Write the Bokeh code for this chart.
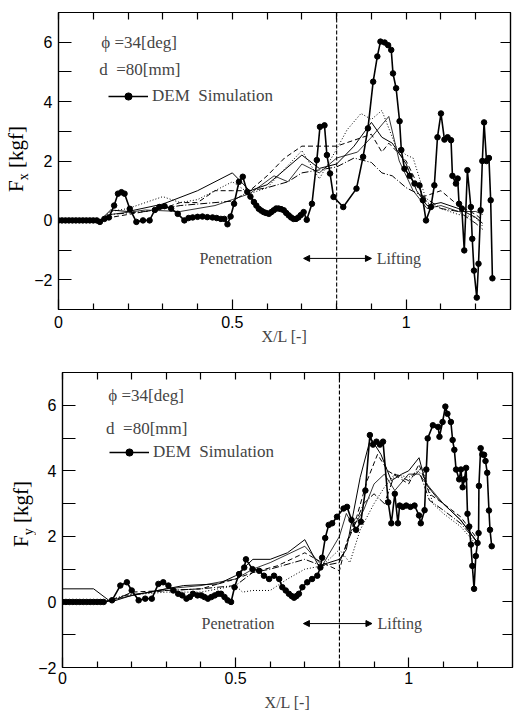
from bokeh.plotting import figure
from bokeh.models import (Range1d, FixedTicker, LinearAxis, Span, Arrow, NormalHead,
                          Label, Legend, LegendItem, Div)
from bokeh.layouts import column, row
from bokeh.embed import file_html
from bokeh.resources import INLINE

# ---------------- data ----------------
x_major = [0, 0.5, 1.0]
x_minor = [0.1, 0.2, 0.3, 0.4, 0.6, 0.7, 0.8, 0.9, 1.1, 1.2]
x_labels = {0: "0", 0.5: "0.5", 1: "1"}
y_major = [-2, 0, 2, 4, 6]
y_minor = [-3, -1, 1, 3, 5, 7]
x_lift = 0.8

# Top panel: Fx, DEM simulation
dem_fx_x = [0.00, 0.01, 0.02, 0.03, 0.04, 0.05, 0.06, 0.07, 0.08, 0.09, 0.10, 0.11,
            0.119, 0.132, 0.145, 0.160, 0.171, 0.181, 0.190, 0.205, 0.224, 0.243, 0.262,
            0.277, 0.290, 0.305, 0.324, 0.343, 0.362, 0.374, 0.386, 0.400, 0.414, 0.428,
            0.443, 0.455, 0.467, 0.477, 0.486, 0.495, 0.505, 0.519, 0.530, 0.543, 0.552,
            0.562, 0.569, 0.576, 0.583, 0.590, 0.597, 0.605, 0.612, 0.619, 0.626, 0.633,
            0.640, 0.648, 0.655, 0.662, 0.669, 0.676, 0.683, 0.690, 0.697, 0.705, 0.714,
            0.729, 0.743, 0.752, 0.765, 0.772, 0.781, 0.791, 0.819, 0.857, 0.876, 0.890,
            0.905, 0.917, 0.926, 0.938, 0.948, 0.957, 0.962, 0.971, 0.981, 0.986, 0.995,
            1.010, 1.024, 1.038, 1.048, 1.057, 1.071, 1.081, 1.090, 1.100, 1.110, 1.119,
            1.129, 1.133, 1.143, 1.148, 1.152, 1.160, 1.167, 1.176, 1.186, 1.190, 1.195,
            1.203, 1.208, 1.214, 1.219, 1.224, 1.231, 1.238, 1.243, 1.248]
dem_fx_y = [0.0, 0.0, 0.0, 0.0, 0.0, 0.0, 0.0, 0.0, 0.0, 0.0, 0.0, 0.0,
            -0.05, 0.05, 0.10, 0.50, 0.90, 0.95, 0.90, 0.39, -0.05, 0.00, 0.00,
            0.35, 0.45, 0.48, 0.40, 0.22, 0.00, 0.08, 0.10, 0.12, 0.13, 0.11,
            0.10, 0.08, 0.05, 0.05, -0.13, 0.13, 0.56, 1.30, 1.47, 0.96, 0.80,
            0.62, 0.50, 0.39, 0.33, 0.28, 0.25, 0.22, 0.28, 0.34, 0.40, 0.40,
            0.38, 0.34, 0.25, 0.17, 0.10, 0.05, 0.05, 0.10, 0.18, 0.28, 0.02,
            0.56, 2.03, 3.15, 3.20, 2.20, 1.58, 0.79, 0.45, 1.07, 2.14, 3.10,
            4.67, 5.52, 6.02, 5.99, 5.90, 5.74, 4.95, 4.45, 3.34, 2.37, 1.74,
            1.50, 1.24, 1.18, 0.68, 0.00, 0.45, 1.18, 2.80, 3.60, 2.72, 2.80,
            2.70, 1.50, 1.24, 1.41, 0.56, 0.40, -1.01, 1.69, 0.45, -0.62, -1.69,
            -2.60, -1.46, 0.34, 2.00, 3.30, 2.00, 2.10, 0.68, -1.95]

# Top panel: experiments
exp1_fx_x = [0, 0.12, 0.15, 0.20, 0.30, 0.40, 0.50, 0.55, 0.60, 0.70, 0.75, 0.80, 0.85,
             0.90, 0.93, 0.96, 1.00, 1.03, 1.06, 1.10, 1.15, 1.20, 1.22]
exp1_fx_y = [0, 0, 0.35, 0.30, 0.55, 1.00, 1.60, 1.00, 1.20, 2.20, 1.75, 1.90, 2.50,
             3.30, 2.80, 2.60, 1.90, 1.00, 0.50, 0.60, 0.40, 0.10, -0.10]
exp2_fx_x = [0, 0.12, 0.15, 0.20, 0.30, 0.35, 0.40, 0.45, 0.50, 0.55, 0.60, 0.65, 0.70,
             0.80, 0.85, 0.90, 0.93, 0.95, 1.00, 1.05, 1.10, 1.15, 1.20, 1.22]
exp2_fx_y = [0, 0, 0.10, 0.20, 0.40, 0.60, 0.60, 1.00, 1.00, 1.00, 1.50, 2.10, 2.50,
             2.50, 2.70, 2.90, 2.30, 2.60, 2.00, 0.80, 1.00, 0.50, 0.20, 0.00]
exp3_fx_x = [0, 0.12, 0.15, 0.20, 0.30, 0.35, 0.40, 0.50, 0.55, 0.60, 0.70, 0.75, 0.80,
             0.83, 0.87, 0.90, 0.93, 0.97, 1.00, 1.02, 1.06, 1.10, 1.15, 1.20, 1.22]
exp3_fx_y = [0, 0, 0.30, 0.40, 0.80, 0.60, 0.70, 1.30, 0.90, 1.10, 2.35, 1.40, 2.40,
             3.05, 3.60, 3.40, 3.70, 2.50, 2.20, 2.10, 0.60, 0.40, 0.20, 0.10, -0.20]
exp4_fx_x = [0, 0.12, 0.15, 0.25, 0.35, 0.45, 0.50, 0.55, 0.62, 0.66, 0.70, 0.75, 0.80,
             0.86, 0.90, 0.95, 0.98, 1.02, 1.06, 1.10, 1.15, 1.20, 1.22]
exp4_fx_y = [0, 0, 0.20, 0.35, 0.30, 0.50, 0.70, 0.90, 1.50, 1.30, 1.90, 1.60, 2.10,
             2.30, 2.80, 3.50, 2.00, 1.00, 0.40, 0.50, 0.30, 0.30, 0.20]
exp5_fx_x = [0, 0.12, 0.15, 0.25, 0.35, 0.45, 0.50, 0.55, 0.60, 0.66, 0.70, 0.75, 0.80,
             0.85, 0.90, 0.93, 0.96, 1.00, 1.05, 1.10, 1.15, 1.20, 1.22]
exp5_fx_y = [0, 0, 0.20, 0.30, 0.50, 0.60, 0.65, 1.00, 1.10, 1.30, 1.60, 1.70, 1.80,
             2.10, 1.95, 1.60, 1.50, 1.10, 0.80, 0.40, 0.30, -0.10, -0.30]

# Bottom panel: Fy, DEM simulation
dem_fy_x = [0.00, 0.01, 0.02, 0.03, 0.04, 0.05, 0.06, 0.07, 0.08, 0.09, 0.10, 0.11,
            0.119, 0.143, 0.167, 0.186, 0.200, 0.220, 0.239, 0.258, 0.277, 0.291, 0.306,
            0.320, 0.334, 0.346, 0.358, 0.368, 0.377, 0.390, 0.401, 0.410, 0.420, 0.430,
            0.440, 0.450, 0.458, 0.468, 0.477, 0.487, 0.497, 0.510, 0.525, 0.530, 0.549,
            0.568, 0.582, 0.597, 0.611, 0.626, 0.635, 0.645, 0.654, 0.662, 0.669, 0.676,
            0.683, 0.693, 0.707, 0.721, 0.736, 0.745, 0.750, 0.759, 0.769, 0.779, 0.793,
            0.812, 0.822, 0.835, 0.848, 0.862, 0.875, 0.888, 0.897, 0.907, 0.917, 0.926,
            0.941, 0.950, 0.960, 0.969, 0.974, 0.983, 0.993, 1.005, 1.017, 1.030, 1.035,
            1.046, 1.051, 1.055, 1.070, 1.085, 1.089, 1.098, 1.106, 1.112, 1.122, 1.127,
            1.132, 1.137, 1.146, 1.151, 1.156, 1.161, 1.166, 1.170, 1.175, 1.180, 1.184,
            1.189, 1.194, 1.199, 1.202, 1.203, 1.208, 1.213, 1.218, 1.222, 1.227, 1.232,
            1.235, 1.240]
dem_fy_y = [0.0, 0.0, 0.0, 0.0, 0.0, 0.0, 0.0, 0.0, 0.0, 0.0, 0.0, 0.0,
            0.00, 0.05, 0.50, 0.60, 0.35, 0.05, 0.10, 0.10, 0.55, 0.60, 0.50,
            0.35, 0.25, 0.20, 0.10, 0.15, 0.25, 0.20, 0.20, 0.15, 0.10, 0.15,
            0.20, 0.25, 0.25, 0.15, 0.05, 0.00, 0.45, 0.85, 1.05, 1.30, 1.00,
            0.95, 0.80, 0.70, 0.80, 0.70, 0.45, 0.35, 0.25, 0.18, 0.13, 0.18,
            0.25, 0.45, 0.60, 0.70, 0.80, 1.05, 1.35, 1.95, 2.35, 2.40, 2.60,
            2.85, 2.90, 2.50, 2.20, 2.45, 3.40, 5.09, 4.80, 4.89, 4.80, 4.89,
            3.04, 2.40, 3.30, 2.40, 2.94, 2.90, 2.94, 2.90, 2.94, 2.64, 2.40,
            2.80, 4.04, 4.99, 5.39, 5.34, 5.04, 5.49, 5.96, 5.74, 5.49, 4.94,
            4.64, 4.04, 3.74, 4.04, 3.50, 3.74, 4.09, 2.69, 2.30, 1.75, 1.10,
            0.40, 1.40, 1.80, 2.10, 3.54, 4.69, 4.50, 4.49, 4.30, 3.94, 2.79,
            2.20, 1.70]

# Bottom panel: experiments
exp1_fy_x = [0, 0.09, 0.14, 0.20, 0.30, 0.35, 0.45, 0.50, 0.55, 0.60, 0.65, 0.70, 0.74,
             0.80, 0.82, 0.86, 0.89, 0.92, 0.95, 0.98, 1.00, 1.03, 1.05, 1.08, 1.12,
             1.15, 1.20]
exp1_fy_y = [0.40, 0.40, 0.00, 0.20, 0.40, 0.50, 0.55, 0.80, 1.30, 1.30, 1.50, 1.90,
             1.10, 1.30, 1.60, 3.80, 5.00, 4.50, 3.70, 3.90, 4.00, 4.40, 3.60, 3.20,
             2.80, 2.50, 1.80]
exp2_fy_x = [0, 0.12, 0.15, 0.20, 0.30, 0.40, 0.50, 0.55, 0.62, 0.70, 0.75, 0.80, 0.82,
             0.85, 0.88, 0.91, 0.94, 0.97, 1.00, 1.03, 1.06, 1.10, 1.15, 1.20]
exp2_fy_y = [0, 0, 0.05, 0.30, 0.35, 0.40, 0.70, 0.90, 1.10, 1.50, 1.20, 0.95, 1.80,
             2.60, 3.70, 4.50, 4.00, 3.80, 3.60, 4.20, 3.30, 3.00, 2.60, 1.90]
exp3_fy_x = [0, 0.12, 0.18, 0.30, 0.40, 0.45, 0.50, 0.52, 0.55, 0.60, 0.65, 0.70, 0.75,
             0.80, 0.83, 0.86, 0.90, 0.93, 0.96, 1.00, 1.04, 1.07, 1.10, 1.15, 1.20]
exp3_fy_y = [0, 0, 0.20, 0.30, 0.30, 0.40, 0.50, 0.30, 0.35, 0.35, 0.70, 1.00, 1.10,
             1.60, 1.20, 2.20, 3.00, 3.50, 3.90, 3.80, 4.10, 3.00, 2.70, 2.30, 1.70]
exp4_fy_x = [0, 0.12, 0.18, 0.30, 0.40, 0.50, 0.55, 0.60, 0.70, 0.75, 0.80, 0.82, 0.84,
             0.87, 0.90, 0.93, 0.96, 1.00, 1.03, 1.06, 1.10, 1.15, 1.20]
exp4_fy_y = [0, 0, 0.15, 0.40, 0.50, 0.70, 1.00, 1.20, 1.70, 1.10, 2.00, 2.70, 2.30,
             2.80, 3.60, 3.90, 3.40, 3.90, 3.90, 3.50, 3.00, 2.50, 1.80]
exp5_fy_x = [0, 0.12, 0.18, 0.30, 0.40, 0.50, 0.55, 0.60, 0.70, 0.75, 0.80, 0.83, 0.87,
             0.90, 0.93, 0.96, 1.00, 1.03, 1.06, 1.10, 1.15, 1.20]
exp5_fy_y = [0, 0, 0.20, 0.35, 0.40, 0.50, 0.90, 1.00, 1.30, 1.10, 1.20, 2.00, 3.00,
             3.30, 3.00, 3.90, 3.70, 4.00, 3.10, 2.80, 2.40, 1.80]

SERIF = "Liberation Serif"
SANS = "Liberation Sans"
exp_dashes = ["solid", "5 3", "1 2", "solid", "7 2 1 2"]
exp_widths = [1.0, 1.0, 1.0, 0.8, 1.0]
NB = "\u00a0"


def make_panel(width, height, borders, y_rng, exps, dem_x, dem_y,
               txt_pos, legend_loc, pen_pos, arrow_pos, lift_pos,
               tick_standoff, xlab_standoff):
    p = figure(width=width, height=height, x_range=Range1d(0, 1.3), y_range=Range1d(*y_rng),
               output_backend="svg", toolbar_location=None,
               min_border_left=borders[0], min_border_right=borders[1],
               min_border_top=borders[2], min_border_bottom=borders[3])
    bottom_ax = p.below[0]
    left_ax = p.left[0]
    p.xgrid.visible = False
    p.ygrid.visible = False
    p.outline_line_color = "black"
    p.outline_line_width = 1.2
    p.background_fill_color = "white"
    p.border_fill_color = "white"

    bottom_ax.ticker = FixedTicker(ticks=x_major, minor_ticks=x_minor)
    left_ax.ticker = FixedTicker(ticks=y_major, minor_ticks=y_minor)
    bottom_ax.major_label_overrides = x_labels
    top_ax = LinearAxis(ticker=FixedTicker(ticks=[], minor_ticks=x_major + x_minor))
    right_ax = LinearAxis(ticker=FixedTicker(ticks=[], minor_ticks=y_major + y_minor))
    p.add_layout(top_ax, "above")
    p.add_layout(right_ax, "right")
    for ax in [bottom_ax, left_ax, top_ax, right_ax]:
        ax.major_tick_out = 0
        ax.minor_tick_out = 0
        ax.major_tick_line_color = "black"
        ax.minor_tick_line_color = "black"
        ax.major_tick_line_width = 1.2
        ax.minor_tick_line_width = 1.2
        ax.axis_line_color = "black"
        ax.axis_line_width = 1.2
        ax.major_label_text_font = SANS
        ax.major_label_text_font_size = "16px"
        ax.major_label_text_color = "black"
    bottom_ax.major_tick_in = 10
    bottom_ax.minor_tick_in = 6
    top_ax.minor_tick_in = 7
    left_ax.major_tick_in = 13
    left_ax.minor_tick_in = 13
    right_ax.minor_tick_in = 10
    bottom_ax.major_label_standoff = tick_standoff
    left_ax.major_label_standoff = 6
    bottom_ax.axis_label = "X/L [-]"
    bottom_ax.axis_label_text_font = SERIF
    bottom_ax.axis_label_text_font_size = "16px"
    bottom_ax.axis_label_text_font_style = "normal"
    bottom_ax.axis_label_standoff = xlab_standoff

    for (ex, ey), dash, lw in zip(exps, exp_dashes, exp_widths):
        p.line(ex, ey, line_color="black", line_width=lw, line_dash=dash)

    r_line = p.line(dem_x, dem_y, line_color="black", line_width=1.6)
    r_pts = p.scatter(dem_x, dem_y, size=5.5, marker="circle", fill_color="black",
                      line_color="black")

    p.add_layout(Span(location=x_lift, dimension="height", line_color="black",
                      line_width=1.1, line_dash="4 2"))

    # in-plot texts
    p.add_layout(Label(x=txt_pos[0][0], y=txt_pos[0][1], text="ϕ" + NB + "=34[deg]",
                       text_font=SERIF, text_font_size="17px", text_baseline="middle"))
    p.add_layout(Label(x=txt_pos[1][0], y=txt_pos[1][1], text="d" + NB + NB + "=80[mm]",
                       text_font=SERIF, text_font_size="17px", text_baseline="middle"))
    legend = Legend(items=[LegendItem(label="DEM" + NB + NB + "Simulation",
                                      renderers=[r_line, r_pts])],
                    location=legend_loc, border_line_color=None, background_fill_alpha=0,
                    padding=0, margin=0, spacing=0, glyph_width=40, glyph_height=18,
                    label_standoff=4, label_text_font=SERIF, label_text_font_size="17px")
    p.add_layout(legend, "center")

    p.add_layout(Label(x=pen_pos[0], y=pen_pos[1], text="Penetration", text_font=SERIF,
                       text_font_size="16px", text_align="center", text_baseline="middle"))
    p.add_layout(Label(x=lift_pos[0], y=lift_pos[1], text="Lifting", text_font=SERIF,
                       text_font_size="16px", text_align="left", text_baseline="middle"))
    p.add_layout(Arrow(x_start=arrow_pos[0], x_end=arrow_pos[1], y_start=arrow_pos[2],
                       y_end=arrow_pos[2], line_width=1,
                       start=NormalHead(size=6, fill_color="black", line_color="black"),
                       end=NormalHead(size=6, fill_color="black", line_color="black")))
    return p


def make_ylabel(width, height, left, top, comp):
    html = ('<div style="margin-left:%dpx; margin-top:%dpx; width:max-content; '
            'transform:rotate(-90deg); transform-origin:left top; white-space:nowrap; '
            "font-family:'Liberation Serif'; font-size:21px; line-height:21px; "
            'color:black;">F<sub style="font-size:14px; line-height:0;">%s</sub>'
            '&nbsp;[kgf]</div>') % (left, top, comp)
    return Div(text=html, width=width, height=height, margin=0)


p1 = make_panel(484, 350, (25, 5, 12, 41), (-3, 7),
                [(exp1_fx_x, exp1_fx_y), (exp2_fx_x, exp2_fx_y), (exp3_fx_x, exp3_fx_y),
                 (exp4_fx_x, exp4_fx_y), (exp5_fx_x, exp5_fx_y)],
                dem_fx_x, dem_fx_y,
                [(0.123, 6.0), (0.117, 5.07)], (50, 203),
                (0.51, -1.28), (0.705, 0.90, -1.28), (0.915, -1.28), 6, -3)
q1 = make_ylabel(31, 350, 6, 192, "x")

p2 = make_panel(480, 363, (25, 3, 22, 43), (-2, 7),
                [(exp1_fy_x, exp1_fy_y), (exp2_fy_x, exp2_fy_y), (exp3_fy_x, exp3_fy_y),
                 (exp4_fy_x, exp4_fy_y), (exp5_fy_x, exp5_fy_y)],
                dem_fy_x, dem_fy_y,
                [(0.132, 6.29), (0.126, 5.3)], (47, 205),
                (0.507, -0.66), (0.696, 0.894, -0.66), (0.91, -0.66), 4, 7)
q2 = make_ylabel(35, 363, 11, 197, "y")

layout = column(row(q1, p1), row(q2, p2))
open("out.html", "w").write(file_html(layout, INLINE))
